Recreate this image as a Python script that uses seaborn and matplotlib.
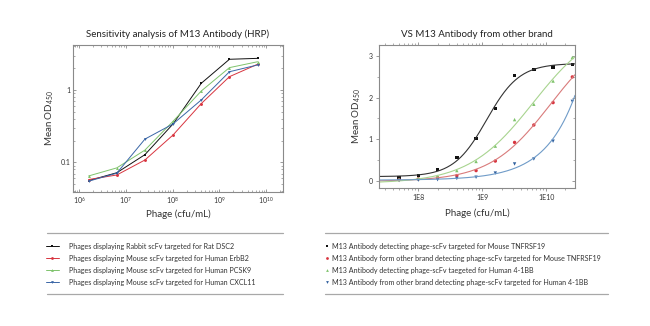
import numpy as np
import pandas as pd
import matplotlib
matplotlib.use("Agg")
import matplotlib.pyplot as plt
from matplotlib.lines import Line2D
from matplotlib.ticker import FixedLocator, FixedFormatter, LogLocator, NullFormatter, MultipleLocator
import seaborn as sns

# ---------------- data ----------------
left_x = [1.6e6, 6.4e6, 2.56e7, 1.02e8, 4.1e8, 1.64e9, 6.55e9]
left_dsc2 = [0.056, 0.072, 0.128, 0.34, 1.24, 2.66, 2.74]
left_erbb2 = [0.058, 0.067, 0.108, 0.239, 0.65, 1.53, 2.27]
left_pcsk9 = [0.065, 0.084, 0.148, 0.37, 0.97, 2.04, 2.46]
left_cxcl11 = [0.055, 0.071, 0.21, 0.34, 0.73, 1.79, 2.22]
left_labels = ["Phages displaying Rabbit scFv targeted for Rat DSC2",
               "Phages displaying Mouse scFv targeted for Human ErbB2",
               "Phages displaying Mouse scFv targeted for Human PCSK9",
               "Phages displaying Mouse scFv targeted for Human CXCL11"]

right_x = [5e7, 1e8, 2e8, 4e8, 8e8, 1.6e9, 3.2e9, 6.4e9, 1.28e10, 2.56e10]
right_m13_tnf = [0.06, 0.12, 0.26, 0.55, 1.01, 1.74, 2.53, 2.68, 2.74, 2.80]
right_other_tnf = [0.02, 0.04, 0.07, 0.12, 0.24, 0.47, 0.92, 1.34, 1.88, 2.50]
right_m13_41bb = [0.03, 0.05, 0.10, 0.24, 0.46, 0.83, 1.47, 1.84, 2.40, 2.97]
right_other_41bb = [0.00, 0.01, 0.02, 0.05, 0.08, 0.18, 0.40, 0.52, 0.95, 1.91]
right_labels = ["M13 Antibody detecting phage-scFv targeted for Mouse TNFRSF19",
                "M13 Antibody form other brand detecting phage-scFv targeted for Mouse TNFRSF19",
                "M13 Antibody detecting phage-scFv taegeted for Human 4-1BB",
                "M13 Antibody from other brand detecting phage-scFv targeted for Human 4-1BB"]

# ---------------- style ----------------
sns.set_theme(style="ticks")
plt.rcParams['font.family'] = ['Lato', 'DejaVu Sans']
plt.rcParams['mathtext.fontset'] = 'custom'
plt.rcParams['mathtext.rm'] = 'Lato'
SP = '#8a8a8a'
TXT = '#333333'
plt.rcParams.update({'axes.edgecolor': SP, 'axes.linewidth': 0.8,
                     'xtick.color': SP, 'ytick.color': SP,
                     'xtick.labelcolor': TXT, 'ytick.labelcolor': TXT,
                     'xtick.major.size': 2.5, 'ytick.major.size': 2.5,
                     'xtick.minor.size': 1.5, 'ytick.minor.size': 1.5,
                     'xtick.major.width': 0.6, 'ytick.major.width': 0.6,
                     'xtick.minor.width': 0.5, 'ytick.minor.width': 0.5,
                     'xtick.major.pad': 2, 'ytick.major.pad': 2})

fig = plt.figure(figsize=(6.5, 3.26), dpi=100)
W, H = 650, 326
def box(x0, y0, x1, y1):
    return [x0 / W, 1 - y1 / H, (x1 - x0) / W, (y1 - y0) / H]

ax1 = fig.add_axes(box(73, 45, 283, 192))
ax2 = fig.add_axes(box(379, 45, 575, 188))

colL = ['#111111', '#d8343f', '#7fc36c', '#3a66a6']
markL = ['s', 'o', '^', 'v']

# ---------------- left plot ----------------
left_series = [left_dsc2, left_erbb2, left_pcsk9, left_cxcl11]
dfL = pd.concat([pd.DataFrame({'x': left_x, 'y': s, 'g': lab})
                 for s, lab in zip(left_series, left_labels)])
sns.lineplot(data=dfL, x='x', y='y', hue='g', style='g', palette=colL,
             markers=markL, dashes=False, ax=ax1, legend=False,
             linewidth=0.7, markersize=2.1, markeredgewidth=0)
ax1.set_xscale('log')
ax1.set_yscale('log')
ax1.set_xlim(10 ** 5.87, 10 ** 10.36)
ax1.set_ylim(0.039, 4.19)
ax1.xaxis.set_major_locator(FixedLocator([1e6, 1e7, 1e8, 1e9, 1e10]))
ax1.xaxis.set_major_formatter(FixedFormatter([r'$10^{6}$', r'$10^{7}$', r'$10^{8}$', r'$10^{9}$', r'$10^{10}$']))
ax1.xaxis.set_minor_locator(LogLocator(base=10, subs=np.arange(2, 10), numticks=20))
ax1.xaxis.set_minor_formatter(NullFormatter())
ax1.yaxis.set_major_locator(FixedLocator([0.1, 1]))
ax1.yaxis.set_major_formatter(FixedFormatter(['0.1', '1']))
ax1.yaxis.set_minor_locator(LogLocator(base=10, subs=np.arange(2, 10), numticks=20))
ax1.yaxis.set_minor_formatter(NullFormatter())
ax1.tick_params(which='both', direction='in', top=True, right=True, labelsize=5)
ax1.set_xlabel('Phage (cfu/mL)', fontsize=7, color=TXT, labelpad=3)
ax1.set_ylabel(r'Mean OD$_{450}$', fontsize=7, color=TXT, labelpad=3)
ax1.set_title('Sensitivity analysis of M13 Antibody (HRP)', fontsize=7, color='#222222', pad=6)

# ---------------- right plot ----------------
colR_pts = ['#111111', '#d8343f', '#7fc36c', '#2f5f9e']
colR_line = ['#333333', '#d97b7b', '#a8d48f', '#6f9bc8']
markR = ['s', 'o', '^', 'v']
right_series = [right_m13_tnf, right_other_tnf, right_m13_41bb, right_other_41bb]
p0s = [(0.05, 2.8, 9.1, 1.5), (0.03, 3.2, 10.0, 1.0), (0.05, 3.5, 9.7, 1.0), (0.02, 3.0, 10.4, 1.2)]

def f4(p, lx):
    b, t, c, h = p
    e = np.clip((c - lx) * h, -50, 50)
    return b + (t - b) / (1.0 + 10.0 ** e)

def fit4(lx, y, p0):
    p = np.array(p0, float)
    lam = 1e-2
    cost = np.sum((y - f4(p, lx)) ** 2)
    for _ in range(600):
        r = y - f4(p, lx)
        J = np.empty((len(lx), 4))
        for k in range(4):
            dp = np.zeros(4); dp[k] = 1e-6 * max(1.0, abs(p[k]))
            J[:, k] = (f4(p + dp, lx) - f4(p - dp, lx)) / (2 * dp[k])
        A = J.T @ J
        g = J.T @ r
        try:
            step = np.linalg.solve(A + lam * np.diag(np.diag(A) + 1e-12), g)
        except np.linalg.LinAlgError:
            break
        pn = p + step
        cn = np.sum((y - f4(pn, lx)) ** 2)
        if np.isfinite(cn) and cn < cost:
            p, cost = pn, cn
            lam = max(lam / 3, 1e-9)
        else:
            lam *= 3
            if lam > 1e8:
                break
    return p

xlo, xhi = 10 ** 7.385, 10 ** 10.45
lxs = np.linspace(np.log10(xlo), np.log10(xhi), 300)
lx_data = np.log10(np.array(right_x))
curves = []
for s, lab, p0 in zip(right_series, right_labels, p0s):
    p = fit4(lx_data, np.array(s), p0)
    curves.append(pd.DataFrame({'x': 10 ** lxs, 'y': f4(p, lxs), 'g': lab}))
dfC = pd.concat(curves)
dfP = pd.concat([pd.DataFrame({'x': right_x, 'y': s, 'g': lab})
                 for s, lab in zip(right_series, right_labels)])
sns.lineplot(data=dfC, x='x', y='y', hue='g', palette=colR_line, ax=ax2,
             legend=False, linewidth=0.8)
sns.scatterplot(data=dfP, x='x', y='y', hue='g', style='g', palette=colR_pts,
                markers=markR, ax=ax2, legend=False, s=6, linewidth=0)
ax2.set_xscale('log')
ax2.set_xlim(xlo, xhi)
ax2.set_ylim(-0.18, 3.27)
ax2.xaxis.set_major_locator(FixedLocator([1e8, 1e9, 1e10]))
ax2.xaxis.set_major_formatter(FixedFormatter(['1E8', '1E9', '1E10']))
ax2.xaxis.set_minor_locator(LogLocator(base=10, subs=np.arange(2, 10), numticks=20))
ax2.xaxis.set_minor_formatter(NullFormatter())
ax2.yaxis.set_major_locator(FixedLocator([0, 1, 2, 3]))
ax2.yaxis.set_minor_locator(MultipleLocator(0.5))
ax2.tick_params(which='both', direction='out', labelsize=5)
ax2.tick_params(which='both', top=True, right=True)
for t in ax2.xaxis.get_ticklines(minor=False)[1::2] + ax2.xaxis.get_ticklines(minor=True)[1::2]:
    t.set_marker(2)
for t in ax2.yaxis.get_ticklines(minor=False)[1::2] + ax2.yaxis.get_ticklines(minor=True)[1::2]:
    t.set_marker(0)
ax2.set_xlabel('Phage (cfu/mL)', fontsize=7, color=TXT, labelpad=5)
ax2.set_ylabel(r'Mean OD$_{450}$', fontsize=7, color=TXT, labelpad=4)
ax2.set_title('VS M13 Antibody from other brand', fontsize=7, color='#222222', pad=6)

# ---------------- legends ----------------
hL = [Line2D([], [], color=c, marker=m, lw=0.7, markersize=2.0, markeredgewidth=0)
      for c, m in zip(colL, markL)]
fig.legend(hL, left_labels, loc='upper left', bbox_to_anchor=(46 / W, 1 - 243 / H),
           frameon=False, fontsize=5.15, handlelength=1.8, handletextpad=1.4,
           labelspacing=0.69, borderpad=0, borderaxespad=0, labelcolor=TXT)
hR = [Line2D([], [], color=c, marker=m, lw=0, markersize=2.0, markeredgewidth=0)
      for c, m in zip(colR_pts, markR)]
fig.legend(hR, right_labels, loc='upper left', bbox_to_anchor=(325.8 / W, 1 - 243 / H),
           frameon=False, fontsize=5.15, handlelength=0.4, handletextpad=0.46,
           labelspacing=0.69, borderpad=0, borderaxespad=0, labelcolor=TXT)
for (x0, x1) in [(47, 283), (325, 608)]:
    for yy in (233, 294):
        fig.add_artist(Line2D([x0 / W, x1 / W], [1 - yy / H, 1 - yy / H],
                              color='#a8a8a8', lw=0.9, transform=fig.transFigure))

fig.savefig('out.png', dpi=100, facecolor='white')
